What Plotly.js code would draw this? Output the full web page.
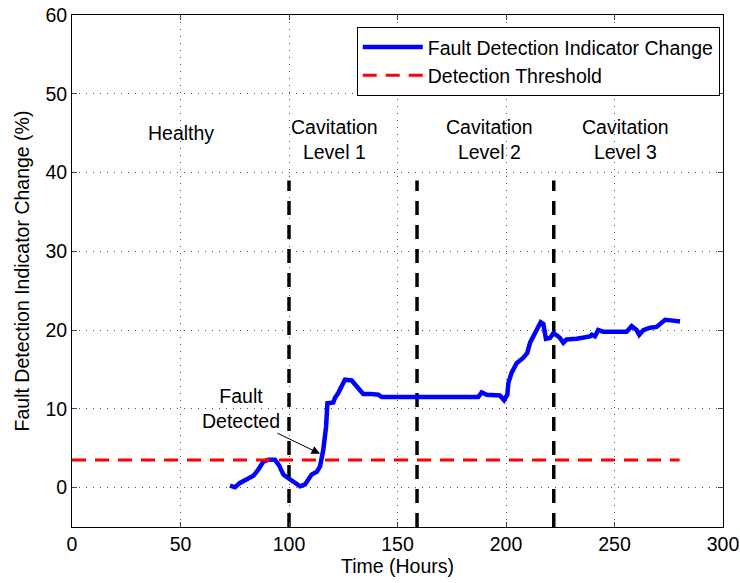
<!DOCTYPE html>
<html>
<head>
<meta charset="utf-8">
<script src="https://cdn.plot.ly/plotly-3.0.1.min.js"></script>
<style>html,body{margin:0;padding:0;background:#fff;}#chart{width:740px;height:583px;}</style>
</head>
<body>
<div id="chart"></div>
<script>
// Fault detection indicator change (%)
const timeHours = [72.8,75.1,77.4,80.5,83.6,85.9,88.2,90.5,93.5,95.5,97.4,98.9,100.5,102.8,105.1,107.4,108.9,110.4,112.8,114.3,115.8,117.1,117.7,120.4,121.2,122.7,124.3,125.8,128.9,130.4,132.7,134.2,137.3,141.2,142.7,158.8,175,187.2,188.8,191.1,197.2,199.1,200.6,201.1,202.6,204.9,208.0,209.8,211.1,213.4,216.0,217.2,218.4,220.3,221.8,223.6,224.9,226.4,227.9,232.6,234.1,238.7,239.5,241.0,242.5,244.8,255.6,257.9,260.2,261.4,263.3,266.4,269.4,273.3,277.1,280.2];
const indicator = [0.25,0.04,0.6,1.1,1.5,2.3,3.3,3.55,3.55,2.8,1.65,1.35,1.0,0.6,0.17,0.4,1.0,1.65,2.0,2.7,4.8,7.8,10.7,10.8,11.4,12.0,12.9,13.7,13.6,13.1,12.4,11.9,11.9,11.8,11.5,11.5,11.5,11.5,12.1,11.8,11.7,11.1,11.8,13.3,14.6,15.8,16.5,17.1,18.4,19.6,21.0,20.8,18.9,19.0,19.6,19.3,19.0,18.4,18.8,18.9,19.0,19.2,19.4,19.2,20.0,19.8,19.8,20.5,20.0,19.4,20.0,20.3,20.4,21.3,21.2,21.1];

const thresholdX = [0, 280];
const thresholdY = [3.5, 3.5];

const stageBoundaries = [100, 159, 222];
const boundaryY = [-5, 39];

const stageLabels = ['Healthy', 'Cavitation<br>Level 1', 'Cavitation<br>Level 2', 'Cavitation<br>Level 3'];
const stageLabelX = [50, 121, 192.5, 255];
const stageLabelY = [45, 44.2, 44.2, 44.2];

const xTicks = [0, 50, 100, 150, 200, 250, 300];
const yTicks = [0, 10, 20, 30, 40, 50, 60];

const FONT = 'Liberation Sans, Arial, sans-serif';
const SIZE = 19.5;
const traces = [];
stageBoundaries.forEach(b => {
  traces.push({x: [b, b], y: boundaryY, mode: 'lines', showlegend: false, hoverinfo: 'skip',
    line: {color: '#000', width: 3.5, dash: '14px,10px'}});
});
traces.push({x: timeHours, y: indicator, mode: 'lines', name: 'Fault Detection Indicator Change',
  line: {color: '#0000ff', width: 4.5}});
traces.push({x: thresholdX, y: thresholdY, mode: 'lines', name: 'Detection Threshold',
  line: {color: '#ff0000', width: 3, dash: '14px,9px'}});

const annotations = stageLabels.map((t, i) => ({
  x: stageLabelX[i], y: stageLabelY[i], xref: 'x', yref: 'y', text: t, showarrow: false,
  font: {family: FONT, size: SIZE, color: '#000'}
}));
annotations.push({x: 78, y: 10.0, xref: 'x', yref: 'y', text: 'Fault<br>Detected', showarrow: false,
  font: {family: FONT, size: SIZE, color: '#000'}});
annotations.push({x: 114.3, y: 4.3, ax: 94, ay: 7.0, xref: 'x', yref: 'y', axref: 'x', ayref: 'y',
  text: '', showarrow: true, arrowhead: 2, arrowsize: 1.7, arrowwidth: 1, arrowcolor: '#000'});

const tickFont = {family: FONT, size: SIZE, color: '#000'};
const layout = {
  width: 740, height: 583,
  margin: {l: 72, r: 17, t: 15, b: 56},
  paper_bgcolor: '#fff', plot_bgcolor: '#fff',
  font: {family: FONT, color: '#000'},
  xaxis: {range: [0, 300], tickvals: xTicks, ticks: 'inside', ticklen: 5, mirror: 'ticks',
    showline: true, linecolor: '#000', linewidth: 1, zeroline: false, automargin: false,
    showgrid: true, gridcolor: '#555', griddash: '1px,6px', gridwidth: 1,
    title: {text: 'Time (Hours)', font: {family: FONT, size: SIZE, color: '#000'}, standoff: 4}, tickfont: tickFont},
  yaxis: {range: [-5, 60], tickvals: yTicks, ticks: 'inside', ticklen: 5, mirror: 'ticks',
    showline: true, linecolor: '#000', linewidth: 1, zeroline: false, automargin: false,
    showgrid: true, gridcolor: '#555', griddash: '1px,6px', gridwidth: 1,
    title: {text: 'Fault Detection Indicator Change (%)', font: {family: FONT, size: SIZE, color: '#000'}, standoff: 10}, tickfont: tickFont},
  legend: {x: 0.995, y: 0.977, xanchor: 'right', yanchor: 'top', bgcolor: '#fff',
    bordercolor: '#000', borderwidth: 1, font: {size: SIZE, family: FONT, color: '#000'},
    tracegroupgap: 0, itemwidth: 60},
  annotations: annotations,
  showlegend: true
};
Plotly.newPlot('chart', traces, layout, {displayModeBar: false, staticPlot: true});
</script>
</body>
</html>
